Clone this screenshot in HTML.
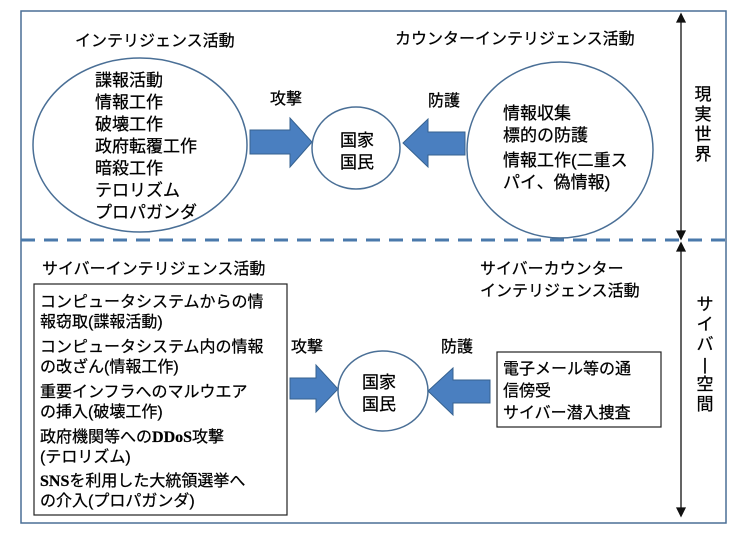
<!DOCTYPE html>
<html><head><meta charset="utf-8"><style>
body{margin:0;background:#fff;}
svg text{font-family:"Liberation Sans","Noto Sans CJK JP",sans-serif;fill:#000;stroke:#000;stroke-width:0.25;}
</style></head><body>
<svg width="736" height="536" viewBox="0 0 736 536" xmlns="http://www.w3.org/2000/svg">
<rect x="21" y="11" width="705" height="512" fill="none" stroke="#4a6f96" stroke-width="1.5"/>
<line x1="21" y1="240" x2="726" y2="240" stroke="#4a79ab" stroke-width="3" stroke-dasharray="14,9"/>
<g stroke="#111" stroke-width="1.3" fill="#111">
<line x1="681" y1="17" x2="681" y2="236"/>
<path d="M677,22 L681,14 L685,22 Z"/><path d="M677,231 L681,239 L685,231 Z"/>
<line x1="681" y1="246" x2="681" y2="512"/>
<path d="M677,251 L681,243 L685,251 Z"/><path d="M677,508 L681,516 L685,508 Z"/>
</g>
<g font-size="17">
<text x="703" y="100" text-anchor="middle"><tspan x="703" dy="0">現</tspan><tspan x="703" dy="20">実</tspan><tspan x="703" dy="20">世</tspan><tspan x="703" dy="20">界</tspan></text>
<text x="705" y="310" text-anchor="middle"><tspan x="705" dy="0">サ</tspan><tspan x="705" dy="20">イ</tspan><tspan x="705" dy="20">バ</tspan><tspan x="705" dy="20">|</tspan><tspan x="705" dy="20">空</tspan><tspan x="705" dy="20">間</tspan></text>
</g>
<g font-size="16">
<text x="75" y="46">インテリジェンス活動</text>
<text x="395" y="44">カウンターインテリジェンス活動</text>
<text x="270" y="104">攻撃</text>
<text x="428" y="106">防護</text>
</g>
<ellipse cx="140" cy="145" rx="107" ry="87" fill="none" stroke="#4a6f96" stroke-width="1.5"/>
<g font-size="17">
<text x="95" y="86">諜報活動</text>
<text x="95" y="108">情報工作</text>
<text x="95" y="130">破壊工作</text>
<text x="95" y="152">政府転覆工作</text>
<text x="95" y="174">暗殺工作</text>
<text x="95" y="196">テロリズム</text>
<text x="95" y="218">プロパガンダ</text>
</g>
<path d="M250,130 L290,130 L290,118 L312,142 L290,167 L290,154 L250,154 Z" fill="#4a7fc0" stroke="#35618f" stroke-width="1"/>
<ellipse cx="356" cy="148" rx="44" ry="41" fill="none" stroke="#4a6f96" stroke-width="1.5"/>
<g font-size="17"><text x="340" y="146">国家</text><text x="340" y="168">国民</text></g>
<path d="M465,132 L428,132 L428,119 L403,143 L428,167 L428,155 L465,155 Z" fill="#4a7fc0" stroke="#35618f" stroke-width="1"/>
<ellipse cx="560" cy="150" rx="93" ry="88" fill="none" stroke="#4a6f96" stroke-width="1.5"/>
<g font-size="17">
<text x="503" y="119">情報収集</text>
<text x="503" y="141">標的の防護</text>
<text x="503" y="166">情報工作(二重ス</text>
<text x="503" y="188">パイ、偽情報)</text>
</g>
<g font-size="16">
<text x="42" y="274">サイバーインテリジェンス活動</text>
<text x="480" y="274">サイバーカウンター</text>
<text x="480" y="296">インテリジェンス活動</text>
<text x="291" y="352">攻撃</text>
<text x="441" y="352">防護</text>
</g>
<rect x="34" y="284" width="253" height="231" fill="none" stroke="#222" stroke-width="1.2"/>
<g font-size="16">
<text x="40" y="307">コンピュータシステムからの情</text>
<text x="40" y="327">報窃取(諜報活動)</text>
<text x="40" y="352">コンピュータシステム内の情報</text>
<text x="40" y="372">の改ざん(情報工作)</text>
<text x="40" y="397">重要インフラへのマルウエア</text>
<text x="40" y="417">の挿入(破壊工作)</text>
<text x="40" y="442">政府機関等への<tspan font-family="Liberation Serif" font-weight="bold">DDoS</tspan>攻撃</text>
<text x="40" y="462">(テロリズム)</text>
<text x="40" y="486"><tspan font-family="Liberation Serif" font-weight="bold">SNS</tspan>を利用した大統領選挙へ</text>
<text x="40" y="506">の介入(プロパガンダ)</text>
</g>
<path d="M290,378 L316,378 L316,365 L338,389 L316,412 L316,399 L290,399 Z" fill="#4a7fc0" stroke="#35618f" stroke-width="1"/>
<ellipse cx="383" cy="391" rx="45" ry="40" fill="none" stroke="#4a6f96" stroke-width="1.5"/>
<g font-size="17"><text x="362" y="388">国家</text><text x="362" y="410">国民</text></g>
<path d="M490,380 L453,380 L453,368 L428,391 L453,415 L453,403 L490,403 Z" fill="#4a7fc0" stroke="#35618f" stroke-width="1"/>
<rect x="497" y="352" width="164" height="75" fill="none" stroke="#222" stroke-width="1.2"/>
<g font-size="16">
<text x="503" y="374">電子メール等の通</text>
<text x="503" y="396">信傍受</text>
<text x="503" y="418">サイバー潜入捜査</text>
</g>
</svg>
</body></html>
